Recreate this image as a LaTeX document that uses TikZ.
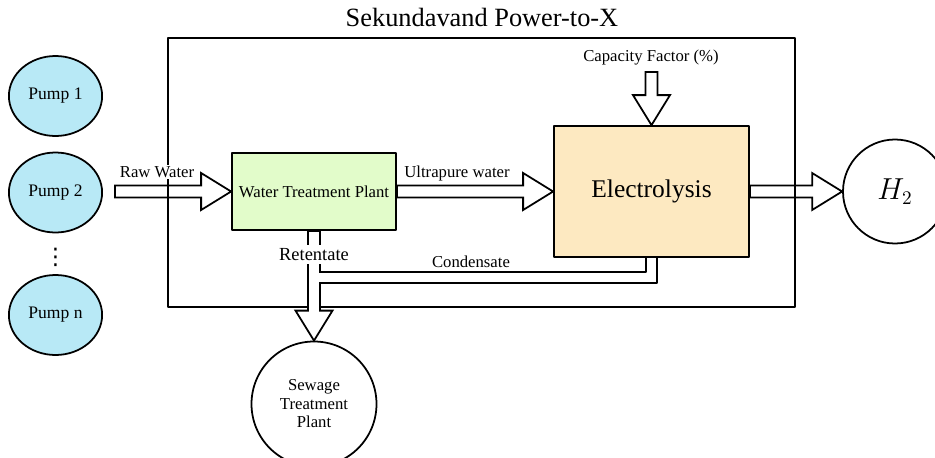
\documentclass[tikz,border=0pt]{standalone}
\usepackage{fontspec}
\setmainfont{Liberation Serif}
\newfontfamily\dotsfont{DejaVu Sans}
\usetikzlibrary{calc,shapes.geometric}

\definecolor{pumpblue}{RGB}{184,233,246}
\definecolor{plantgreen}{RGB}{226,252,202}
\definecolor{electroorange}{RGB}{253,233,193}

\tikzset{
  label text/.style={font=\fontsize{9.5}{11}\selectfont, inner sep=1pt},
  pump/.style={ellipse, draw, line width=1pt, fill=pumpblue,
    minimum width=1.74cm, minimum height=1.60cm, font=\fontsize{10}{12}\selectfont},
  unit/.style={draw, line width=1pt, inner sep=0pt},
  flow/.style={line width=1pt, line join=miter,
    to path={let \p1=(\tikztostart), \p2=(\tikztotarget),
      \n1={atan2(\y2-\y1,\x2-\x1)} in
      ([shift={(\p1)},rotate=\n1]0,0.12) -- ([shift={(\p2)},rotate=\n1]-0.60,0.12)
      -- ([shift={(\p2)},rotate=\n1]-0.60,0.37) -- (\p2)
      -- ([shift={(\p2)},rotate=\n1]-0.60,-0.37) -- ([shift={(\p2)},rotate=\n1]-0.60,-0.12)
      -- ([shift={(\p1)},rotate=\n1]0,-0.12) -- cycle}},
}

\begin{document}
\begin{tikzpicture}[x=1cm,y=1cm,line cap=round,line join=round]
        \useasboundingbox (0,0) rectangle (18.70,9.14);

        % Planta Power-to-X
        \node[unit, minimum width=12.54cm, minimum height=5.38cm] (plant) at (9.63,5.69) {};
        \node[font=\fontsize{15}{18}\selectfont] (title) at (9.64,8.79) {Sekundavand Power-to-X};

        % Bombas de agua cruda
        \node[pump] (pump1) at (1.11,7.22) {Pump 1};
        \node[pump] (pump2) at (1.11,5.29) {Pump 2};
        \node[font=\dotsfont\fontsize{13}{15}\selectfont, inner sep=0pt] (dots) at (1.11,4.00) {⋮};
        \node[pump] (pumpn) at (1.11,2.84) {Pump n};

        % Unidades de proceso
        \node[unit, fill=plantgreen, minimum width=3.28cm, minimum height=1.54cm,
            font=\fontsize{9.5}{11}\selectfont] (wtp) at (6.28,5.31) {Water Treatment Plant};
        \node[unit, fill=electroorange, minimum width=3.90cm, minimum height=2.62cm,
            font=\fontsize{14.5}{17}\selectfont] (ele) at (13.03,5.31) {Electrolysis};
        \node[unit, circle, minimum size=2.08cm,
            font=\fontsize{16}{18}\selectfont] (h2) at (17.90,5.31) {$H_2$};
        \node[unit, circle, minimum size=2.50cm, align=center,
            font=\fontsize{9.5}{10.5}\selectfont] (sewage) at (6.28,1.06) {Sewage\\Treatment\\Plant};

        % Flujos principales
        \coordinate (rawin) at (2.30,5.31);
        \coordinate (capin) at (13.03,7.70);
        \draw[flow] (rawin) to (wtp.west);
        \draw[flow] (wtp.east) to (ele.west);
        \draw[flow] (ele.east) to (h2.west);
        \draw[flow] (capin) to (ele.north);
        \draw[flow, fill=white] (wtp.south) to (sewage.north);

        % Retorno de condensado
        \coordinate (condin) at (6.40,3.70);
        \coordinate (condout) at (6.40,3.48);
        \fill[white] (6.37,3.50) rectangle (6.46,3.68);
        \draw[line width=1pt] (condin) -| ($(ele.south)+(-0.11,0)$);
        \draw[line width=1pt] (condout) -| ($(ele.south)+(0.11,0)$);

        % Etiquetas
        \node[label text, fill=white] (rawlbl) at (3.14,5.70) {Raw Water};
        \node[label text] (purelbl) at (9.14,5.68) {Ultrapure water};
        \node[label text] (caplbl) at (13.02,7.98) {Capacity Factor (\%)};
        \node[label text, fill=white, inner sep=2pt,
            font=\fontsize{10.5}{12}\selectfont] (retlbl) at (6.28,4.05) {Retentate};
        \node[label text] (condlbl) at (9.42,3.90) {Condensate};
    \end{tikzpicture}
\end{document}
